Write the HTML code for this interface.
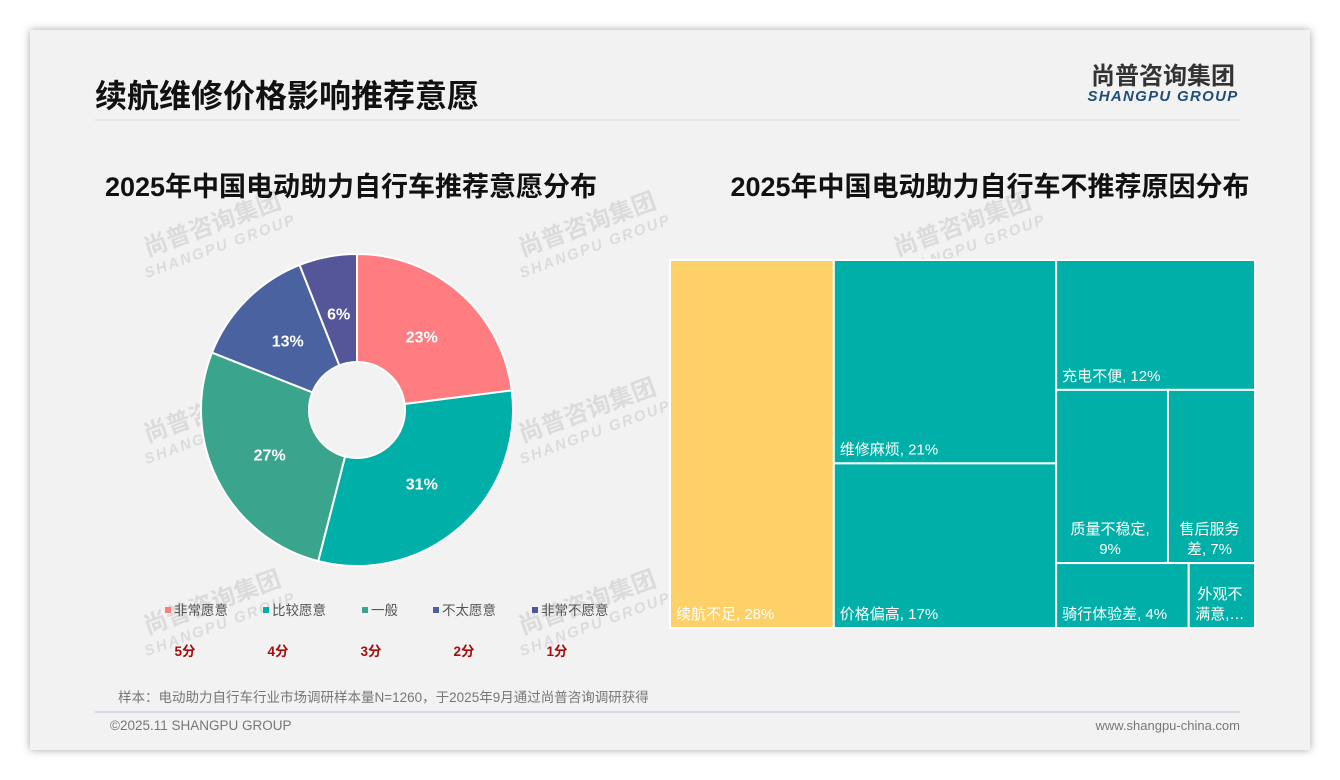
<!DOCTYPE html>
<html><head><meta charset="utf-8">
<style>
html,body{margin:0;padding:0;background:#fff;}
body{width:1340px;height:780px;position:relative;overflow:hidden;font-family:"Liberation Sans","Noto Sans CJK SC",sans-serif;}
#slide{position:absolute;left:30px;top:30px;width:1280px;height:720px;background:#f2f2f2;box-shadow:0 0 8px rgba(0,0,0,0.35);}
</style></head>
<body>
<div id="slide"></div>
<svg id="svg" width="1340" height="780" style="position:absolute;left:0;top:0">
  <g id="wm"></g>
  <text x="95" y="107" font-size="32" font-weight="bold" fill="#111" font-family="Liberation Sans, Noto Sans CJK SC, sans-serif">续航维修价格影响推荐意愿</text>
  <line x1="95" y1="120" x2="1240" y2="120" stroke="#d8d8d8" stroke-width="1"/>
  <text x="1163" y="84" text-anchor="middle" font-size="24" font-weight="bold" fill="#333" font-family="Liberation Sans, Noto Sans CJK SC, sans-serif">尚普咨询集团</text>
  <text x="1163" y="101" text-anchor="middle" font-size="15" font-weight="bold" font-style="italic" fill="#1f4e79" letter-spacing="1.3" font-family="Liberation Sans, sans-serif">SHANGPU GROUP</text>
  <text x="351" y="196" text-anchor="middle" font-size="27" font-weight="bold" fill="#111" font-family="Liberation Sans, Noto Sans CJK SC, sans-serif">2025年中国电动助力自行车推荐意愿分布</text>
  <text x="990" y="196" text-anchor="middle" font-size="27" font-weight="bold" fill="#111" font-family="Liberation Sans, Noto Sans CJK SC, sans-serif">2025年中国电动助力自行车不推荐原因分布</text>
  <g id="donut"></g>
  <g id="legend"></g>
  <g id="tree"></g>
  <text x="118" y="702" font-size="13.5" fill="#777" font-family="Liberation Sans, Noto Sans CJK SC, sans-serif">样本：电动助力自行车行业市场调研样本量N=1260，于2025年9月通过尚普咨询调研获得</text>
  <line x1="95" y1="712" x2="1240" y2="712" stroke="#b8c4d6" stroke-width="1"/>
  <text x="110" y="730" font-size="13.5" fill="#777" font-family="Liberation Sans, sans-serif">©2025.11 SHANGPU GROUP</text>
  <text x="1240" y="730" text-anchor="end" font-size="13" fill="#777" font-family="Liberation Sans, sans-serif">www.shangpu-china.com</text>
</svg>
<script>
const donutCats=["非常愿意","比较愿意","一般","不太愿意","非常不愿意"];
const donutVals=[23,31,27,13,6];
const donutScores=["5分","4分","3分","2分","1分"];
const treeCats=["续航不足","维修麻烦","价格偏高","充电不便","质量不稳定","售后服务差","骑行体验差","外观不满意"];
const treeVals=[28,21,17,12,9,7,4,2];
const treeLabels=[["续航不足, 28%"],["维修麻烦, 21%"],["价格偏高, 17%"],["充电不便, 12%"],["质量不稳定,","9%"],["售后服务","差, 7%"],["骑行体验差, 4%"],["外观不","满意,…"]];
const treeStripSizes=[1,2,1,2,2];
const treeStripDirs=["v","v","h","h","h"];

const NS="http://www.w3.org/2000/svg";
const FF="Liberation Sans, Noto Sans CJK SC, sans-serif";
function mk(tag,attrs,parent){const e=document.createElementNS(NS,tag);for(const k in attrs)e.setAttribute(k,attrs[k]);parent.appendChild(e);return e;}

const wm=document.getElementById('wm');
[[215,232],[590,232],[965,232],[215,418],[590,418],[215,610],[590,610]].forEach(p=>{
  const g=mk('g',{transform:`translate(${p[0]},${p[1]}) rotate(-20)`,opacity:0.09},wm);
  
  
  const t1=mk('text',{x:0,y:0,'text-anchor':'middle','font-size':24,'font-weight':'bold',fill:'#000','font-family':FF},g);t1.textContent='尚普咨询集团';
  const t2=mk('text',{x:0,y:20,'text-anchor':'middle','font-size':15,'font-weight':'bold','font-style':'italic',fill:'#000','letter-spacing':2,'font-family':FF},g);t2.textContent='SHANGPU GROUP';
});

const donutColors=["#ff7c80","#00b0a8","#3aa58c","#4a62a0","#55569a"];
const cx=357,cy=410,R=156,r=48;
const dg=document.getElementById('donut');
const total=donutVals.reduce((a,b)=>a+b,0);
let a0=0;
function pt(rad,ang){return [cx+rad*Math.sin(ang),cy-rad*Math.cos(ang)];}
donutVals.forEach((v,i)=>{
  const a1=a0+v/total*2*Math.PI;
  const large=(a1-a0)>Math.PI?1:0;
  const p1=pt(R,a0),p2=pt(R,a1),p3=pt(r,a1),p4=pt(r,a0);
  const path=mk('path',{d:`M${p1[0]},${p1[1]} A${R},${R} 0 ${large} 1 ${p2[0]},${p2[1]} L${p3[0]},${p3[1]} A${r},${r} 0 ${large} 0 ${p4[0]},${p4[1]} Z`,fill:donutColors[i],stroke:'#fff','stroke-width':2},dg);
  
  
  const am=(a0+a1)/2,lp=pt(98,am);
  const t=mk('text',{x:lp[0],y:lp[1]+6,'text-anchor':'middle','font-size':16,'font-weight':'bold',fill:'#fff','font-family':FF},dg);
  t.textContent=v+'%';
  
  
  a0=a1;
});

const lg=document.getElementById('legend');
const legX=[165,263,362,433,532];
const scoreX=[185,278,371,464,557];
donutCats.forEach((c,i)=>{
  const x=legX[i];
  const s=mk('rect',{x:x,y:607,width:6,height:6,fill:donutColors[i]},lg);
  
  
  const t=mk('text',{x:x+9,y:615,'font-size':13.5,fill:'#555','font-family':FF},lg);
  t.textContent=c;
  
  
  const sc=mk('text',{x:scoreX[i],y:656,'text-anchor':'middle','font-size':13.5,'font-weight':'bold',fill:'#a50d0d','font-family':FF},lg);
  sc.textContent=donutScores[i];
  
  
});

const TX=670,TY=260,TW=585,TH=368;
const tsum=treeVals.reduce((a,b)=>a+b,0);
const rects=[];
let box={x:TX,y:TY,w:TW,h:TH},remain=tsum,idx=0;
treeStripSizes.forEach((n,si)=>{
  const vals=treeVals.slice(idx,idx+n);idx+=n;
  const s=vals.reduce((a,b)=>a+b,0);
  if(treeStripDirs[si]==="v"){
    const w=box.w*s/remain;let y=box.y;
    vals.forEach(v=>{const h=box.h*v/s;rects.push({x:box.x,y:y,w:w,h:h});y+=h;});
    box={x:box.x+w,y:box.y,w:box.w-w,h:box.h};
  }else{
    const h=box.h*s/remain;let x=box.x;
    vals.forEach(v=>{const w=box.w*v/s;rects.push({x:x,y:box.y,w:w,h:h});x+=w;});
    box={x:box.x,y:box.y+h,w:box.w,h:box.h-h};
  }
  remain-=s;
});
const tg=document.getElementById('tree');
rects.forEach((b,k)=>{
  const rc=mk('rect',{x:b.x,y:b.y,width:b.w,height:b.h,fill:k===0?'#fdd068':'#00b0a8',stroke:'#fff','stroke-width':2},tg);
  
  
  const lines=treeLabels[k];
  const multi=lines.length>1;
  lines.forEach((ln,j)=>{
    const yy=b.y+b.h-9-(lines.length-1-j)*20;
    const t=mk('text',{x:multi?b.x+b.w/2-2:b.x+6,y:yy,'text-anchor':multi?'middle':'start','font-size':15,fill:'#fff','font-family':FF},tg);
    t.textContent=ln;
    
    
  });
});
</script>
</body></html>
